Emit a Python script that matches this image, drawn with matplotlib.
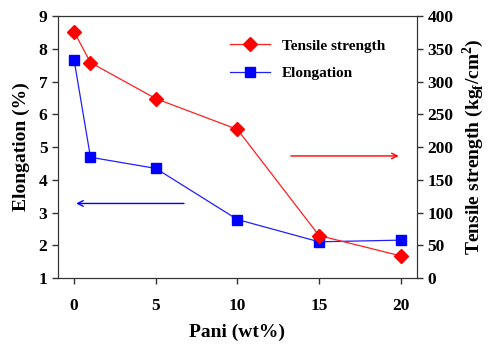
import matplotlib
matplotlib.use('Agg')
import matplotlib.pyplot as plt

plt.rcParams['font.family'] = ['Liberation Serif', 'DejaVu Serif']
plt.rcParams['font.weight'] = 'bold'
plt.rcParams['mathtext.fontset'] = 'custom'
plt.rcParams['mathtext.rm'] = 'Liberation Serif:bold'
plt.rcParams['mathtext.bf'] = 'Liberation Serif:bold'

pani = [0, 1, 5, 10, 15, 20]
elongation = [7.65, 4.69, 4.35, 2.79, 2.11, 2.16]
tensile = [376, 329, 274, 227, 65, 34]

fig = plt.figure(figsize=(4.9, 3.49), dpi=100)
ax = fig.add_axes([0.118, 0.203, 0.733, 0.751])
ax2 = ax.twinx()

l2, = ax2.plot(pani, tensile, color='#ff2020', lw=0.9, marker='D', ms=7.5,
               mfc='red', mec='red', label='Tensile strength')
l1, = ax.plot(pani, elongation, color='#2020ff', lw=0.9, marker='s', ms=7,
              mfc='blue', mec='blue', label='Elongation')

ax.set_xlim(-1, 21)
ax.set_ylim(1, 9)
ax2.set_ylim(0, 400)
ax.set_xticks([0, 5, 10, 15, 20])
ax.set_yticks(range(1, 10))
ax2.set_yticks(range(0, 401, 50))

for a in (ax, ax2):
    a.tick_params(direction='out', length=4, width=1, labelsize=12.5, color='#333333')
    for s in a.spines.values():
        s.set_color('#333333')
ax.tick_params(axis='x', pad=10)

ax.set_xlabel('Pani (wt%)', fontsize=14, fontweight='bold', labelpad=7)
ax.set_ylabel('Elongation (%)', fontsize=14, fontweight='bold', labelpad=6)
ax2.set_ylabel(r'Tensile strength (kg$_{\rm f}$/cm$^{\rm 2}$)', fontsize=14,
               fontweight='bold', labelpad=5)

# arrows pointing to the axis of each series
ax.annotate('', xy=(-0.05, 3.28), xytext=(6.9, 3.28),
            arrowprops=dict(arrowstyle='->', color='blue', lw=1))
ax.annotate('', xy=(20.05, 4.73), xytext=(13.1, 4.73),
            arrowprops=dict(arrowstyle='->', color='red', lw=1))

ax.legend([l2, l1], ['Tensile strength', 'Elongation'], loc='upper right',
          bbox_to_anchor=(0.95, 0.965), frameon=False, fontsize=11,
          handlelength=2.6, labelspacing=0.9)

fig.savefig('out.png', dpi=100)
